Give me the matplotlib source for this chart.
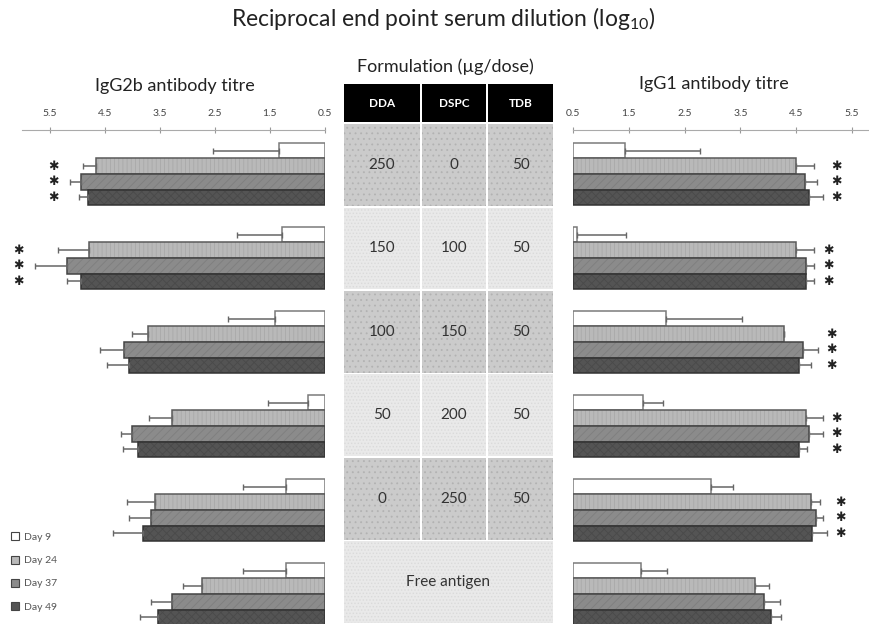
import matplotlib
matplotlib.use("Agg")
import matplotlib.pyplot as plt
import matplotlib.patches as mpatches
import numpy as np

plt.rcParams['font.family'] = ['Lato', 'DejaVu Sans']
plt.rcParams['mathtext.default'] = 'regular'
plt.rcParams['hatch.linewidth'] = 0.6

# ---------------- data ----------------
days = ['Day 9', 'Day 24', 'Day 37', 'Day 49']
dda = ['250', '150', '100', '50', '0']
dspc = ['0', '100', '150', '200', '250']
tdb = ['50', '50', '50', '50', '50']
table_header = ['DDA', 'DSPC', 'TDB']
free_label = 'Free antigen'

# IgG2b titres (log10), rows = formulations (top to bottom), cols = days
igg2b = np.array([
    [1.34, 4.66, 4.92, 4.81],
    [1.28, 4.79, 5.19, 4.92],
    [1.41, 3.72, 4.14, 4.06],
    [0.81, 3.28, 4.01, 3.90],
    [1.21, 3.59, 3.65, 3.81],
    [1.21, 2.74, 3.28, 3.54],
])
igg2b_err = np.array([
    [1.20, 0.24, 0.20, 0.15],
    [0.82, 0.56, 0.58, 0.27],
    [0.85, 0.29, 0.45, 0.40],
    [0.73, 0.42, 0.20, 0.27],
    [0.78, 0.51, 0.41, 0.53],
    [0.78, 0.34, 0.37, 0.32],
])
igg1 = np.array([
    [1.43, 4.50, 4.66, 4.73],
    [0.57, 4.50, 4.68, 4.68],
    [2.17, 4.28, 4.62, 4.55],
    [1.75, 4.68, 4.73, 4.55],
    [2.97, 4.77, 4.85, 4.79],
    [1.72, 3.76, 3.92, 4.05],
])
igg1_err = np.array([
    [1.35, 0.32, 0.21, 0.25],
    [0.88, 0.32, 0.14, 0.14],
    [1.36, 0.00, 0.27, 0.22],
    [0.37, 0.30, 0.25, 0.14],
    [0.40, 0.16, 0.13, 0.26],
    [0.46, 0.25, 0.29, 0.18],
])
# groups marked significant (asterisks on Day 24/37/49)
igg2b_sig = [True, True, False, False, False, False]
igg1_sig = [True, True, True, True, True, False]

ticks = [0.5, 1.5, 2.5, 3.5, 4.5, 5.5]
tick_labels = ['0.5', '1.5', '2.5', '3.5', '4.5', '5.5']

# ---------------- styles ----------------
fills = ['#ffffff', '#b9b9b9', '#8b8b8b', '#545454']
hatch_cols = ['#ffffff', '#a9a9a9', '#7e7e7e', '#4a4a4a']
hatches = [None, '||||', '////', 'xxxx']
edges = ['#7a7a7a', '#5a5a5a', '#444444', '#333333']
bar_h = 0.185
offsets = (np.arange(4) - 1.5) * bar_h
W, H = 869, 624

fig = plt.figure(figsize=(W / 100, H / 100), dpi=100)


def px(x0, y0, x1, y1):
    return [x0 / W, 1 - y1 / H, (x1 - x0) / W, (y1 - y0) / H]


def panel(ax, vals, errs, sig, pad):
    n = vals.shape[0]
    ypos = np.arange(n)
    for d in range(4):
        y = ypos + offsets[d]
        if hatches[d]:
            ax.barh(y, vals[:, d] - 0.5, left=0.5, height=bar_h, color=fills[d],
                    edgecolor=hatch_cols[d], hatch=hatches[d], linewidth=0)
        else:
            ax.barh(y, vals[:, d] - 0.5, left=0.5, height=bar_h, color=fills[d], linewidth=0)
        ax.barh(y, vals[:, d] - 0.5, left=0.5, height=bar_h, fill=False,
                edgecolor=edges[d], linewidth=1.1)
        ax.errorbar(vals[:, d], y, xerr=[np.zeros(n), errs[:, d]], fmt='none',
                    ecolor='#666666', elinewidth=1.1, capsize=2.5, capthick=1.0)
    for g in range(n):
        if sig[g]:
            sx = (vals[g] + errs[g]).max() + pad
            for d in range(1, 4):
                ax.text(sx, g + offsets[d], '\u2731', ha='center', va='center',
                        fontsize=9, color='#222222', family='DejaVu Sans', clip_on=False)
    ax.set_ylim(n - 1 + 0.357, -0.524)
    ax.xaxis.tick_top()
    ax.set_xticks(ticks)
    ax.set_xticklabels(tick_labels)
    ax.tick_params(axis='x', direction='inout', length=5, width=0.8, color='#999999',
                   labelsize=7.5, labelcolor='#444444', pad=6)
    ax.set_yticks([])
    for s in ['left', 'right', 'bottom']:
        ax.spines[s].set_visible(False)
    ax.spines['top'].set_color('#aaaaaa')
    ax.patch.set_alpha(0)


ax_l = fig.add_axes(px(22, 130, 325, 624))
panel(ax_l, igg2b, igg2b_err, igg2b_sig, 0.3)
ax_l.set_xlim(6.0, 0.5)

ax_r = fig.add_axes(px(573, 130, 869, 624))
panel(ax_r, igg1, igg1_err, igg1_sig, 0.25)
ax_r.set_xlim(0.5, 0.5 + 296 / 55.8)

# ---------------- centre table ----------------
ax_t = fig.add_axes(px(343, 84, 554, 624))
col_edges = [0, 78, 144, 211]
ax_t.set_xlim(0, 211)
ax_t.set_ylim(5.5, -0.971)
ax_t.axis('off')
for c in range(3):
    x0, x1 = col_edges[c], col_edges[c + 1]
    ax_t.add_patch(mpatches.Rectangle((x0 + 0.8, -0.971), x1 - x0 - 1.6, 0.456,
                                      facecolor='black', edgecolor='none'))
    ax_t.text((x0 + x1) / 2, -0.743, table_header[c], ha='center', va='center',
              color='white', fontsize=8.5, fontweight='bold')
rows = list(zip(dda, dspc, tdb))
for r in range(6):
    dark = r % 2 == 0
    fc = '#cbcbcb' if dark else '#e9e9e9'
    hc = '#b2b2b2' if dark else '#dadada'
    hp = '...' if dark else '.....'
    if r < len(rows):
        for c in range(3):
            x0, x1 = col_edges[c], col_edges[c + 1]
            ax_t.add_patch(mpatches.Rectangle((x0 + 0.8, r - 0.49), x1 - x0 - 1.6, 0.98,
                                              facecolor=fc, edgecolor=hc, hatch=hp, linewidth=0))
            ax_t.text((x0 + x1) / 2, r, rows[r][c], ha='center', va='center',
                      fontsize=11, color='#333333')
    else:
        ax_t.add_patch(mpatches.Rectangle((0.8, r - 0.49), 211 - 1.6, 0.98,
                                          facecolor=fc, edgecolor=hc, hatch=hp, linewidth=0))
        ax_t.text(105.5, r, free_label, ha='center', va='center', fontsize=11, color='#333333')

# ---------------- titles ----------------
fig.text(443 / W, 1 - 18 / H, 'Reciprocal end point serum dilution (log$_{10}$)',
         ha='center', va='center', fontsize=16.5, color='#222222')
fig.text(445 / W, 1 - 67 / H, 'Formulation (\u00b5g/dose)', ha='center', va='center',
         fontsize=13, color='#222222')
fig.text(175 / W, 1 - 86 / H, 'IgG2b antibody titre', ha='center', va='center',
         fontsize=13, color='#222222')
fig.text(714 / W, 1 - 84 / H, 'IgG1 antibody titre', ha='center', va='center',
         fontsize=13, color='#222222')

# ---------------- legend ----------------
handles = [mpatches.Patch(facecolor=fills[d], edgecolor='#444444', linewidth=0.8)
           for d in range(4)]
fig.legend(handles, days, loc='lower left', bbox_to_anchor=(0.002, 0.005), frameon=False,
           fontsize=7.5, labelcolor='#555555', handlelength=0.8, handleheight=0.8,
           handletextpad=0.4, labelspacing=1.3)

fig.savefig('out.png', dpi=100)
